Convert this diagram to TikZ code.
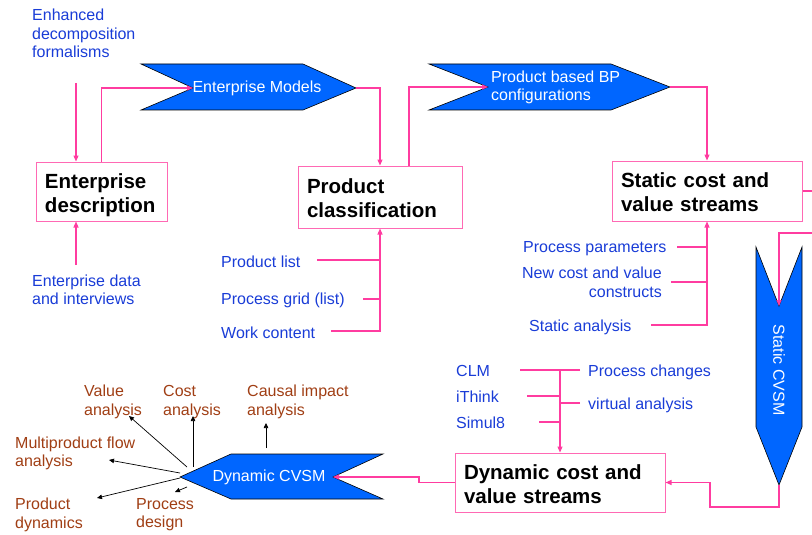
\documentclass[tikz,border=0pt]{standalone}
\usepackage{fontspec}
\setmainfont{Liberation Sans}
\usetikzlibrary{arrows.meta}
\definecolor{linkpink}{RGB}{255,60,160}
\definecolor{boxpink}{RGB}{255,105,180}
\definecolor{cvsmblue}{RGB}{0,102,255}
\definecolor{inblue}{RGB}{25,60,215}
\definecolor{outbrown}{RGB}{160,62,20}

\begin{document}
\begin{tikzpicture}[x=1pt, y=-1pt,
    stage/.style={draw=boxpink, line width=1pt, rectangle, align=left, inner xsep=9pt,
        font=\fontsize{20.5}{24}\selectfont\bfseries,
        execute at begin node={\rule{0pt}{22pt}}, execute at end node={\rule[-4.5pt]{0pt}{4.5pt}}},
    inlbl/.style={text=inblue, font=\fontsize{16}{18.5}\selectfont, inner sep=0pt, align=left, anchor=west,
        yshift=-2.5pt, execute at begin node=\strut, execute at end node=\strut},
    outlbl/.style={inlbl, text=outbrown},
    cvsm/.style={fill=cvsmblue, draw=black, line width=0.6pt},
    cvtext/.style={text=white, font=\fontsize{16}{18.5}\selectfont, inner sep=0pt},
    link/.style={draw=linkpink, line width=1.1pt},
    linkarrow/.style={link, -{Triangle[length=6pt,width=5pt]}},
    fanout/.style={draw=black, line width=0.7pt, -{Triangle[length=5pt,width=4.5pt]}}]
    \useasboundingbox (0,0) rectangle (812,535);

    % boxes
    \node (edesc) [stage, text width=113pt, minimum height=59pt] at (101.5,191.5) {Enterprise\\description};
    \node (pclass) [stage, text width=146pt, minimum height=62pt] at (380,197) {Product\\classification};
    \node (staticbox) [stage, text width=172pt, minimum height=60pt] at (707,191) {Static cost and\\value streams};
    \node (dynbox) [stage, text width=192pt, minimum height=59pt] at (560,482.5) {Dynamic cost and\\value streams};

    % blue arrow shapes
    \draw[cvsm] (141,64) -- (303,64) -- (356,88) coordinate (em-tip) -- (303,110) -- (141,110)
        -- (193,88) coordinate (em-notch) -- cycle;
    \node (emtext) [cvtext] at (257,88) {Enterprise Models};
    \draw[cvsm] (429,64) -- (611,64) -- (670,87) coordinate (bp-tip) -- (611,110) -- (429,110)
        -- (488,87) coordinate (bp-notch) -- cycle;
    \node (bptext) [cvtext, anchor=west, align=left] at (491,87.5) {Product based BP\\configurations};
    \draw[cvsm] (756,247) -- (779,306) coordinate (sc-notch) -- (802,247) -- (802,427)
        -- (779,485) coordinate (sc-tip) -- (756,427) -- cycle;
    \node (sctext) [cvtext, rotate=-90] at (779,370) {Static CVSM};
    \draw[cvsm] (383,454) -- (333,477) coordinate (dc-notch) -- (383,499) -- (231,499)
        -- (180,477) coordinate (dc-tip) -- (231,454) -- cycle;
    \node (dctext) [cvtext] at (269,477) {Dynamic CVSM};

    % inputs
    \node (enhanced) [inlbl] at (32,33.5) {Enhanced\\decomposition\\formalisms};
    \node (edata) [inlbl] at (32,290) {Enterprise data\\and interviews};
    \node (plist) [inlbl] at (221,261) {Product list};
    \node (pgrid) [inlbl] at (221,298) {Process grid (list)};
    \node (wcontent) [inlbl] at (221,332) {Work content};
    \node (pparams) [inlbl] at (523,246) {Process parameters};
    \node (newcv) [inlbl, anchor=east, align=right] at (662,282.5) {New cost and value\\constructs};
    \node (sanalysis) [inlbl] at (529,325) {Static analysis};
    \node (clm) [inlbl] at (456,370) {CLM};
    \node (ithink) [inlbl] at (456,396) {iThink};
    \node (simul) [inlbl] at (456,422) {Simul8};
    \node (pchanges) [inlbl] at (588,370) {Process changes};
    \node (vanalysis) [inlbl] at (588,403) {virtual analysis};

    % outputs
    \node (valuea) [outlbl] at (84,400.5) {Value\\analysis};
    \node (costa) [outlbl] at (163,400.5) {Cost\\analysis};
    \node (causal) [outlbl] at (247,400.5) {Causal impact\\analysis};
    \node (multi) [outlbl] at (15,452) {Multiproduct flow\\analysis};
    \node (pdyn) [outlbl] at (15,513.5) {Product\\dynamics};
    \node (pdesign) [outlbl] at (136,513.5) {Process\\design};

    % free ends
    \coordinate (enh-end) at (76,83);
    \coordinate (edata-end) at (76,265);
    \coordinate (plist-end) at (317,260);
    \coordinate (pgrid-end) at (363,299);
    \coordinate (wcontent-end) at (331,331);
    \coordinate (pparams-end) at (677,247);
    \coordinate (newcv-end) at (671,282);
    \coordinate (sanalysis-end) at (651,325);
    \coordinate (clm-end) at (520,370);
    \coordinate (ithink-end) at (527,396);
    \coordinate (simul-end) at (539,422);
    \coordinate (pchanges-end) at (580,370);
    \coordinate (vanalysis-end) at (580,403);
    \coordinate (rim1) at (812,191);
    \coordinate (rim2) at (812,233);
    \coordinate (bend1) at (710,507);
    \coordinate (bend2) at (419,482.5);

    % pink flow
    \draw[linkarrow] (enh-end) -- (enh-end |- edesc.north);
    \draw[linkarrow] (edata-end) -- (edata-end |- edesc.south);
    \draw[linkarrow] (edesc.north) |- (em-notch);
    \draw[linkarrow] (em-tip) -| (pclass.north);
    \draw[linkarrow] ([xshift=29pt]pclass.north) |- (bp-notch);
    \draw[linkarrow] (bp-tip) -| (staticbox.north);
    \draw[link] (staticbox.east) -- (rim1);
    \draw[linkarrow] (rim2) -| (sc-notch);
    \draw[linkarrow] (sc-tip) |- (bend1) |- (dynbox.east);
    \draw[linkarrow] (dynbox.west) -- (bend2) |- (dc-notch);

    \draw[linkarrow] (wcontent-end) -| (pclass.south);
    \draw[link] (plist-end) -- (plist-end -| pclass.south);
    \draw[link] (pgrid-end) -- (pgrid-end -| pclass.south);

    \draw[linkarrow] (sanalysis-end) -| (staticbox.south);
    \draw[link] (pparams-end) -- (pparams-end -| staticbox.south);
    \draw[link] (newcv-end) -- (newcv-end -| staticbox.south);

    \draw[linkarrow] (clm-end) -| (dynbox.north);
    \draw[link] (pchanges-end) -- (pchanges-end -| dynbox.north);
    \draw[link] (ithink-end) -- (ithink-end -| dynbox.north);
    \draw[link] (simul-end) -- (simul-end -| dynbox.north);
    \draw[link] (vanalysis-end) -- (vanalysis-end -| dynbox.north);

    % dynamic CVSM results
    \coordinate (va-pt) at (129,416);
    \coordinate (ca-pt) at (193,416);
    \coordinate (ci-pt) at (266,423);
    \coordinate (mf-pt) at (109,460);
    \coordinate (pd-pt) at (97,498);
    \coordinate (ps-pt) at (175,492);
    \draw[fanout] ([shift={(7,-10)}]dc-tip) -- (va-pt);
    \draw[fanout] ([shift={(13,-10)}]dc-tip) -- (ca-pt);
    \draw[fanout] (266,448) -- (ci-pt);
    \draw[fanout] ([shift={(0,-4)}]dc-tip) -- (mf-pt);
    \draw[fanout] ([shift={(0,1)}]dc-tip) -- (pd-pt);
    \draw[fanout] ([shift={(7,10)}]dc-tip) -- (ps-pt);
\end{tikzpicture}
\end{document}
